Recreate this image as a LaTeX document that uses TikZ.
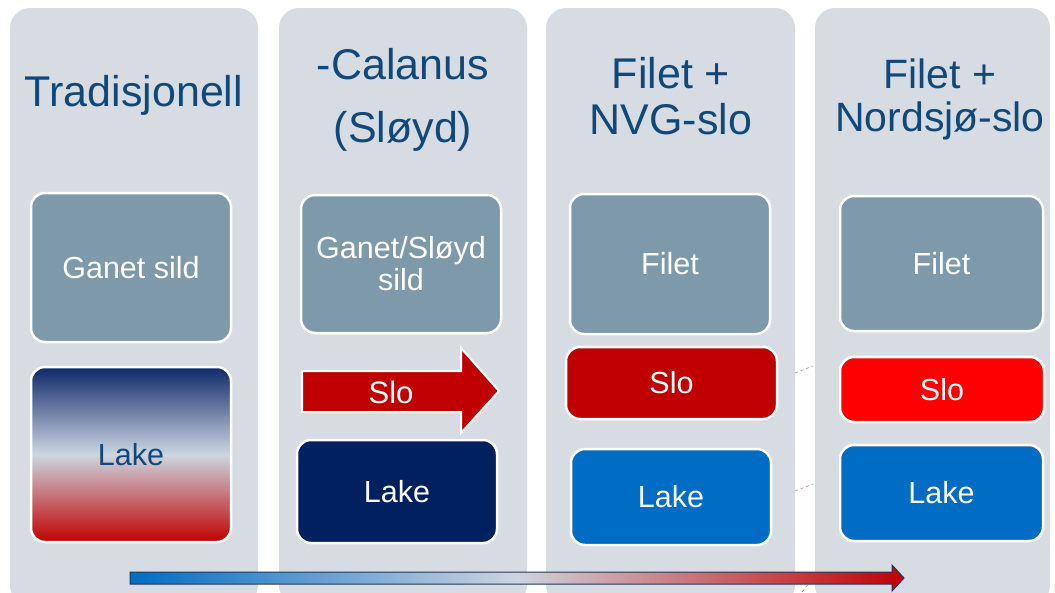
\documentclass[tikz,border=0pt]{standalone}
\usepackage{fontspec}
\setmainfont{Liberation Sans}
\definecolor{panelgray}{RGB}{214,220,225}
\definecolor{boxgray}{RGB}{125,153,170}
\definecolor{titleblue}{RGB}{16,72,124}
\definecolor{navy}{RGB}{0,32,96}
\definecolor{darkred}{RGB}{192,0,0}
\definecolor{brightred}{RGB}{255,0,0}
\definecolor{midblue}{RGB}{0,108,195}
\definecolor{lakenavy}{RGB}{14,40,105}
\definecolor{lakelight}{RGB}{204,214,226}
\definecolor{arrowlight}{RGB}{206,212,222}
\definecolor{edgenavy}{RGB}{31,56,100}
\definecolor{dashgray}{RGB}{150,155,160}
\begin{document}
\begin{tikzpicture}[x=1pt,y=-1pt,
  panel/.style={fill=panelgray, rounded corners=20pt, minimum width=#1,
    minimum height=597pt, inner sep=0pt},
  title/.style={text=titleblue, align=center, inner sep=0pt,
    font=\fontsize{43}{46}\selectfont},
  box/.style={draw=white, line width=2.5pt, rounded corners=14pt, text=white,
    align=center, inner sep=0pt, font=\fontsize{30.5}{32}\selectfont},
  faint/.style={draw=dashgray, dashed, line width=0.6pt}]
\clip (0,0) rectangle (1055,592);
\useasboundingbox (0,0) rectangle (1055,592);
\fill[white] (0,0) rectangle (1055,592);

% column panels
\node[panel=248pt] (p1) at (134,306.5) {};
\node[panel=248pt] (p2) at (403,306.5) {};
\node[panel=249pt] (p3) at (670.5,306.5) {};
\node[panel=235pt] (p4) at (932.5,306.5) {};

% faint dashed traces between the last two columns
\coordinate (d1a) at (795,373); \coordinate (d1b) at (813,366);
\coordinate (d2a) at (795,491); \coordinate (d2b) at (813,484);
\coordinate (d3a) at (802,592); \coordinate (d3b) at (810,582);
\draw[faint] (d1a) -- (d1b);
\draw[faint] (d2a) -- (d2b);
\draw[faint] (d3a) -- (d3b);

% titles
\node[title] (t1) at (134,95) {Tradisjonell};
\node[title, font=\fontsize{43}{63}\selectfont] (t2) at (403,100) {-Calanus\\(Sløyd)};
\node[title] (t3) at (671,96) {Filet +\\NVG-slo};
\node[title, font=\fontsize{41}{43}\selectfont] (t4) at (940,99) {Filet +\\Nordsjø-slo};

% column 1
\node[box, fill=boxgray, minimum width=200pt, minimum height=149pt] (g1) at (131,267.5) {Ganet sild};
\node[box, top color=lakenavy, bottom color=darkred, middle color=lakelight,
  text=titleblue, minimum width=200pt, minimum height=175pt] (l1) at (131,454.5) {Lake};

% column 2
\node[box, fill=boxgray, minimum width=200pt, minimum height=138pt] (g2) at (401,264) {Ganet/Sløyd\\sild};
\draw[fill=darkred, draw=white, line width=2pt]
  (302,371) -- (461,371) -- (461,348) -- (499,391) -- (461,433) -- (461,412) -- (302,412) -- cycle;
\node[text=white, font=\fontsize{31}{32}\selectfont, inner sep=0pt] (s2) at (391,392) {Slo};
\node[box, fill=navy, minimum width=200pt, minimum height=103pt] (l2) at (397,491.5) {Lake};

% column 3
\node[box, fill=boxgray, minimum width=200pt, minimum height=140pt] (f3) at (670,264) {Filet};
\node[box, fill=darkred, minimum width=211pt, minimum height=72pt] (s3) at (671.5,383) {Slo};
\node[box, fill=midblue, minimum width=200pt, minimum height=96pt] (l3) at (671,497) {Lake};

% column 4
\node[box, fill=boxgray, minimum width=203pt, minimum height=135pt] (f4) at (941.5,263.5) {Filet};
\node[box, fill=brightred, minimum width=204pt, minimum height=65pt] (s4) at (942,389.5) {Slo};
\node[box, fill=midblue, minimum width=203pt, minimum height=96pt] (l4) at (941.5,493) {Lake};

% progression arrow along the bottom
\shade[left color=midblue, right color=darkred, middle color=arrowlight]
  (130,572) -- (892,572) -- (892,565) -- (904,578) -- (892,591) -- (892,584) -- (130,584) -- cycle;
\draw[edgenavy, line width=1pt, line join=miter]
  (130,572) -- (892,572) -- (892,565) -- (904,578) -- (892,591) -- (892,584) -- (130,584) -- cycle;
\end{tikzpicture}
\end{document}
